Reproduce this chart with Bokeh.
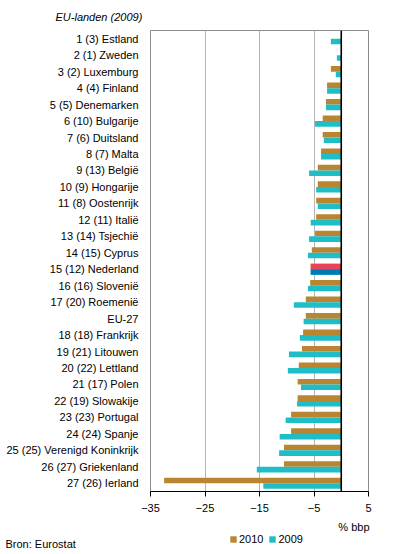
from bokeh.plotting import figure
from bokeh.models import (ColumnDataSource, FactorRange, FixedTicker, Span, Label, Legend,
                          LegendItem)
from bokeh.transform import dodge
from bokeh.embed import file_html
from bokeh.resources import INLINE

categories = [
    "1 (3) Estland", "2 (1) Zweden", "3 (2) Luxemburg", "4 (4) Finland",
    "5 (5) Denemarken", "6 (10) Bulgarije", "7 (6) Duitsland", "8 (7) Malta",
    "9 (13) België", "10 (9) Hongarije", "11 (8) Oostenrijk", "12 (11) Italië",
    "13 (14) Tsjechië", "14 (15) Cyprus", "15 (12) Nederland", "16 (16) Slovenië",
    "17 (20) Roemenië", "EU-27", "18 (18) Frankrijk", "19 (21) Litouwen",
    "20 (22) Lettland", "21 (17) Polen", "22 (19) Slowakije", "23 (23) Portugal",
    "24 (24) Spanje", "25 (25) Verenigd Koninkrijk", "26 (27) Griekenland", "27 (26) Ierland",
]
v2010 = [0.1, 0.0, -1.9, -2.6, -2.8, -3.4, -3.4, -3.7, -4.3, -4.3, -4.6, -4.6,
         -4.8, -5.4, -5.6, -5.7, -6.5, -6.5, -7.0, -7.2, -7.8, -8.0, -8.0, -9.2,
         -9.2, -10.5, -10.5, -32.5]
v2009 = [-1.9, -0.8, -1.0, -2.6, -2.8, -4.8, -3.2, -3.7, -5.9, -4.6, -4.3, -5.6,
         -5.9, -6.1, -5.6, -6.1, -8.7, -6.9, -7.6, -9.6, -9.8, -7.4, -8.1, -10.2,
         -11.3, -11.4, -15.5, -14.3]
highlight = "15 (12) Nederland"
x_ticks = [-35, -25, -15, -5, 5]
series_names = ["2010", "2009"]

BROWN = "#BA8530"
CYAN = "#1FBDC6"
RED = "#E9435A"
BLUE = "#007AB6"
FONT = "Liberation Sans"

src = ColumnDataSource(dict(cat=categories, v2010=v2010, v2009=v2009))
hi_idx = categories.index(highlight)
src_hi = ColumnDataSource(dict(cat=[highlight], v2010=[v2010[hi_idx]], v2009=[v2009[hi_idx]]))

# ---------------- main chart ----------------
p = figure(width=396, height=521, output_backend="svg", toolbar_location=None,
           y_range=FactorRange(factors=list(reversed(categories))),
           x_range=(-35, 5),
           min_border_left=150, min_border_right=28, min_border_top=30, min_border_bottom=30)

p.hbar(y=dodge("cat", 0.17, range=p.y_range), left=0, right="v2010", height=0.34,
       source=src, fill_color=BROWN, line_color=None)
p.hbar(y=dodge("cat", -0.17, range=p.y_range), left=0, right="v2009", height=0.34,
       source=src, fill_color=CYAN, line_color=None)
p.hbar(y=dodge("cat", 0.17, range=p.y_range), left=0, right="v2010", height=0.34,
       source=src_hi, fill_color=RED, line_color=None)
p.hbar(y=dodge("cat", -0.17, range=p.y_range), left=0, right="v2009", height=0.34,
       source=src_hi, fill_color=BLUE, line_color=None)

p.add_layout(Span(location=0, dimension="height", line_color="black", line_width=1.6))

p.outline_line_color = "#8c8c8c"
p.outline_line_width = 1
p.ygrid.grid_line_color = None
p.xgrid.grid_line_color = "#b4b4b4"
p.xgrid.grid_line_width = 1
p.background_fill_color = "white"
p.border_fill_color = "white"

p.xaxis.ticker = FixedTicker(ticks=x_ticks)
p.xaxis.axis_line_color = "black"
p.xaxis.major_tick_line_color = "black"
p.xaxis.major_tick_out = 5
p.xaxis.major_tick_in = 0
p.xaxis.minor_tick_line_color = None
p.xaxis.major_label_text_font = FONT
p.xaxis.major_label_text_font_size = "11px"
p.xaxis.major_label_text_color = "black"
p.xaxis.major_label_standoff = 7

p.yaxis.axis_line_color = None
p.yaxis.major_tick_line_color = None
p.yaxis.minor_tick_line_color = None
p.yaxis.major_label_text_font = FONT
p.yaxis.major_label_text_font_size = "11px"
p.yaxis.major_label_text_color = "black"
p.yaxis.major_label_standoff = 6

p.title.text = "EU-landen (2009)"
p.title.align = "left"
p.title.offset = -95
p.title.standoff = 15
p.title.text_font = FONT
p.title.text_font_size = "11px"
p.title.text_font_style = "italic"
p.title.text_color = "black"

# ---------------- footer: unit, legend, source ----------------
f = figure(width=396, height=33, output_backend="svg", toolbar_location=None,
           x_range=(0, 396), y_range=(33, 0), x_axis_type=None, y_axis_type=None,
           min_border=0, min_border_left=0, min_border_right=0,
           min_border_top=0, min_border_bottom=0)
f.outline_line_color = None
f.xgrid.grid_line_color = None
f.ygrid.grid_line_color = None
f.background_fill_color = "white"
f.border_fill_color = "white"

# legend-key renderers: one undrawable (NaN) row so the legend can draw its swatch
nan = float("nan")
key_src = ColumnDataSource(dict(left=[nan], right=[nan], top=[nan], bottom=[nan]))
k10 = f.quad(left="left", right="right", top="top", bottom="bottom", source=key_src,
             fill_color=BROWN, line_color=None)
k09 = f.quad(left="left", right="right", top="top", bottom="bottom", source=key_src,
             fill_color=CYAN, line_color=None)

f.add_layout(Label(x=369, y=5, text="% bbp", text_font=FONT, text_font_size="11px",
                   text_align="right", text_baseline="middle", text_color="black"))
f.add_layout(Label(x=5, y=22, text="Bron: Eurostat", text_font=FONT, text_font_size="11px",
                   text_baseline="middle", text_color="black"))

legend = Legend(items=[LegendItem(label=series_names[0], renderers=[k10]),
                       LegendItem(label=series_names[1], renderers=[k09])],
                orientation="horizontal", location=(229, 9.5),
                glyph_width=8, glyph_height=8, label_standoff=2, spacing=5,
                padding=0, margin=0, border_line_color=None, background_fill_alpha=0,
                label_text_font=FONT, label_text_font_size="11px", label_height=12,
                label_text_color="black")
f.add_layout(legend, "center")

open("out.html", "w").write(file_html([p, f], INLINE))
